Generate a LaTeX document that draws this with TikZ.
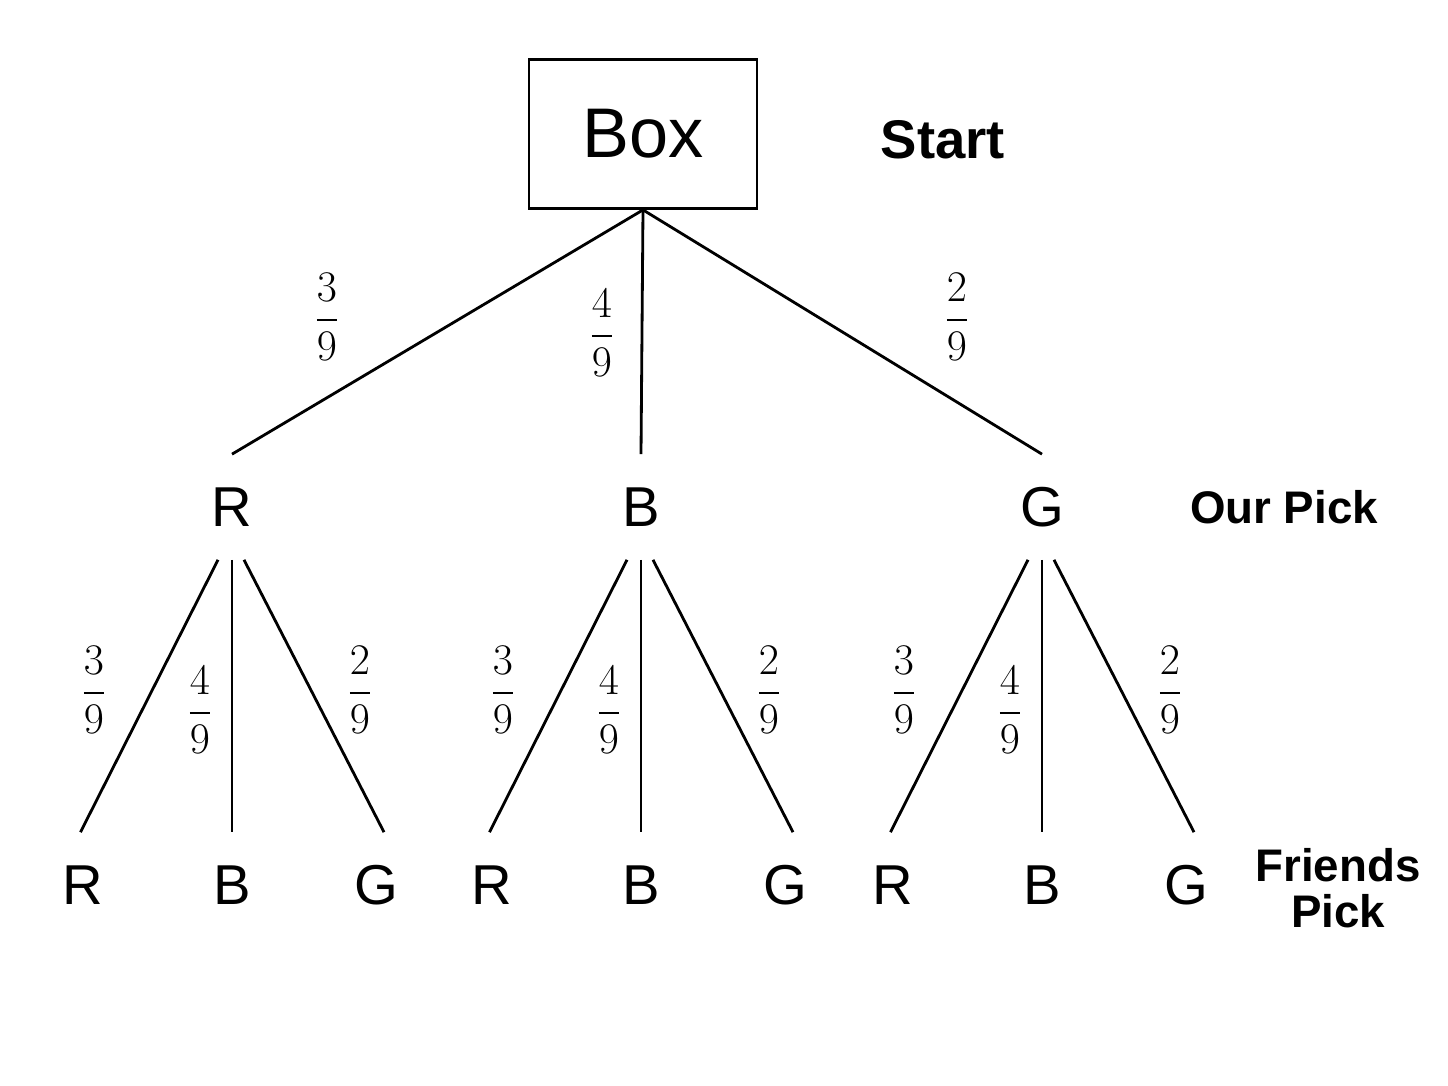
\documentclass[tikz,border=0pt]{standalone}
\usepackage{fontspec}
\setmainfont{Liberation Sans}
\usepackage{amsmath}
\usetikzlibrary{positioning}
\tikzset{
  pick/.style={font=\fontsize{32}{36}\selectfont,inner sep=0pt,
               minimum height=2.1cm},
  prob/.style={font=\fontsize{30}{34}\selectfont},
  side/.style={font=\fontsize{26}{30}\selectfont\bfseries,align=center},
  branch/.style={line width=1.6pt}
}
\newcommand*{\pr}[1]{$\dfrac{#1}{9}$}

\begin{document}
\begin{tikzpicture}[x=0.02cm,y=-0.02cm]
\useasboundingbox (0,0) rectangle (1448,1086);
\node[draw,line width=1.6pt,minimum width=4.56cm,minimum height=2.98cm,
      font=\fontsize{40}{44}\selectfont] (box) at (643,134) {Box};
\node[side,font=\fontsize{31}{34}\selectfont\bfseries] (start) at (943,140) {Start};
% our pick
\node[pick] (R) at (232,507) {R};
\node[pick] (B) at (641,507) {B};
\node[pick] (G) at (1042,507) {G};
\node[side] (our) at (1284,507) {Our Pick};
\draw[branch] (box.south) -- (R.north);
\draw[branch] (box.south) -- (B.north);
\draw[branch] (box.south) -- (G.north);
\node[prob] at (327,317) {\pr{3}};
\node[prob] at (602,333) {\pr{4}};
\node[prob] at (957,317) {\pr{2}};
% friends pick
\foreach \p/\x in {R/232,B/641,G/1042}{
  \pgfmathsetmacro{\xl}{\x-149}
  \pgfmathsetmacro{\xm}{\x}
  \pgfmathsetmacro{\xr}{\x+144}
  \node[pick] (\p r) at (\xl,885) {R};
  \node[pick] (\p b) at (\xm,885) {B};
  \node[pick] (\p g) at (\xr,885) {G};
  \draw[branch] ([xshift=-0.28cm]\p.south) -- ([xshift=-0.05cm]\p r.north);
  \draw[branch] (\p.south) -- (\p b.north);
  \draw[branch] ([xshift=0.24cm]\p.south) -- ([xshift=0.16cm]\p g.north);
  \node[prob] at (\x-138,690) {\pr{3}};
  \node[prob] at (\x-32,710) {\pr{4}};
  \node[prob] at (\x+128,690) {\pr{2}};
}
\node[side] (friends) at (1338,888) {Friends\\[-4pt]Pick};
\end{tikzpicture}
\end{document}
